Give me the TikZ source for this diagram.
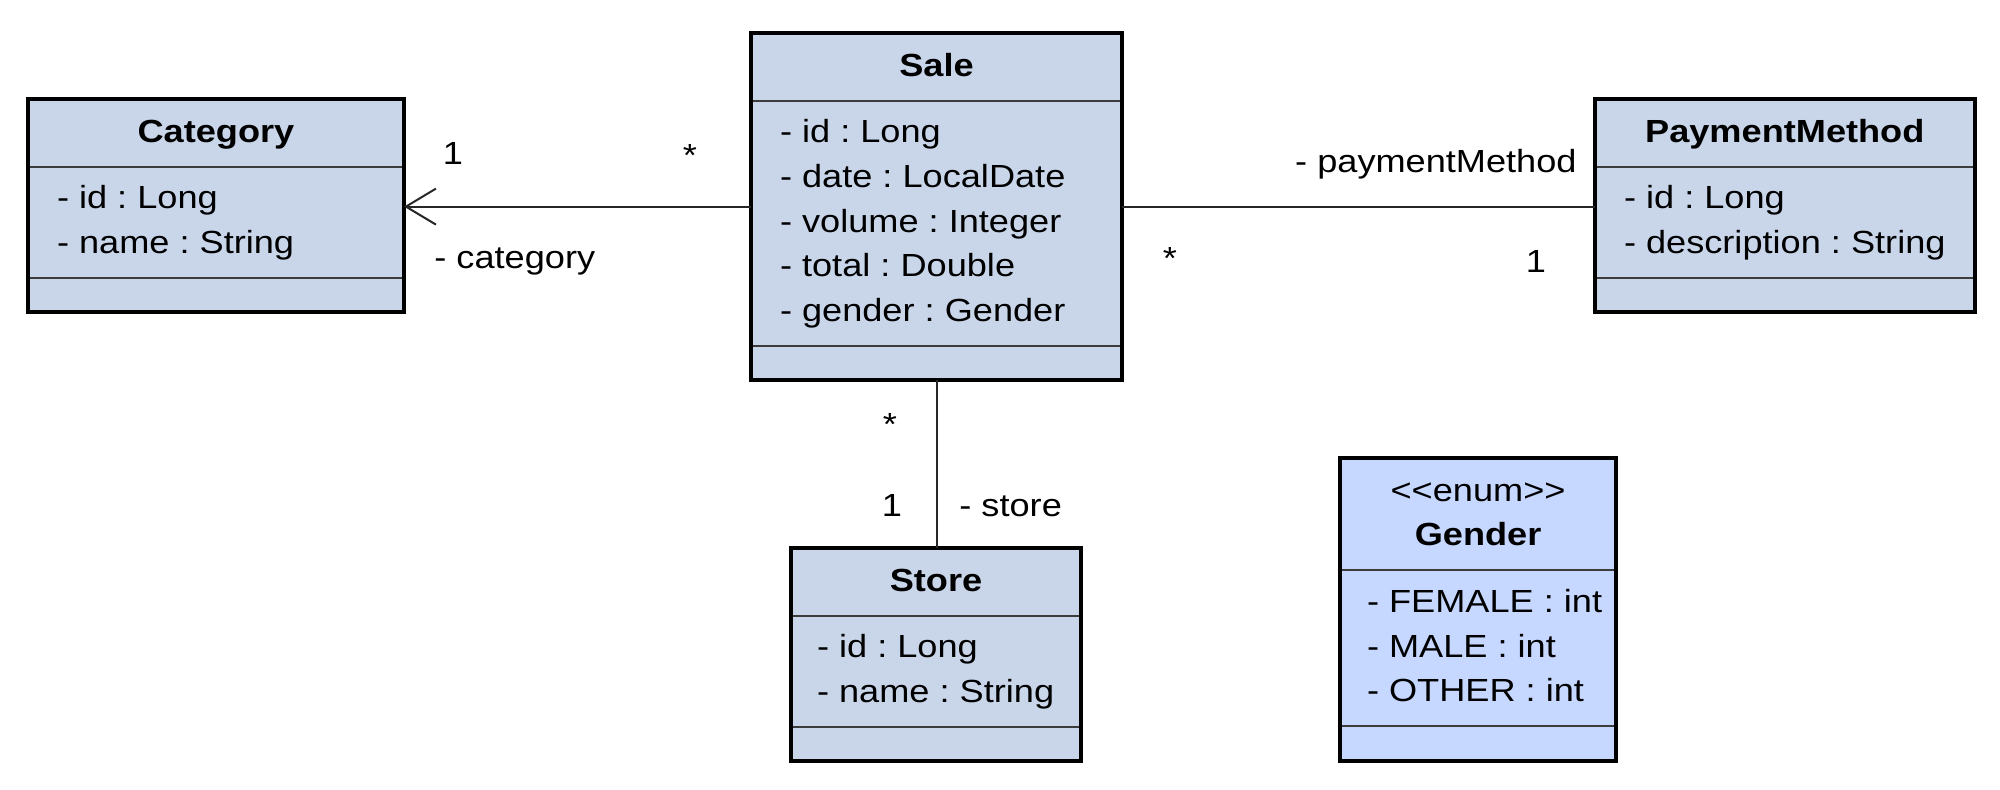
\documentclass[tikz,border=0pt]{standalone}
\usepackage{fontspec}
\setmainfont{Liberation Sans}[FakeStretch=1.13]
\usetikzlibrary{arrows.meta,shapes.multipart}
\definecolor{clsfill}{RGB}{201,214,234}
\definecolor{enumfill}{RGB}{198,216,255}
\definecolor{divgray}{RGB}{60,60,60}
\frenchspacing
\newcommand{\umlfont}{\fontsize{16}{22.3}\selectfont\frenchspacing}
\newcommand{\umlhead}[1]{\strut\textbf{#1}}
\newcommand{\umlattr}[1]{\strut- #1}
\newcommand{\umlenum}[1]{\strut\hspace*{6.5pt}- #1}
\newcommand{\umlstack}[1]{\begin{tabular}{@{}c@{}}#1\end{tabular}}
\tikzset{
  >={Straight Barb[length=15pt,width=18pt]},
  umlclass/.style={rectangle split,rectangle split parts=3,
    rectangle split part align={center,left,left},
    rectangle split empty part height=5.8pt,rectangle split empty part depth=0pt,
    draw=divgray,line width=1pt,fill=#1,align=left,anchor=north west,
    inner xsep=14pt,inner ysep=5pt,font=\umlfont},
  umlclass/.default=clsfill,
  frame/.style={draw=black,line width=2pt},
  assoc/.style={draw=black!85,line width=1pt},
  mult/.style={font=\umlfont,inner sep=0pt,anchor=base},
}
\begin{document}
\begin{tikzpicture}[x=0.5pt,y=-0.5pt]
  \useasboundingbox (0,0) rectangle (2000,789);
  % classes
  \node[umlclass,minimum width=187pt] (cat) at (28,99) {\umlhead{Category}
    \nodepart{two}\umlattr{id : Long}\\\umlattr{name : String}
    \nodepart{three}};
  \node[umlclass,minimum width=184.5pt] (sale) at (751,33) {\umlhead{Sale}
    \nodepart{two}\umlattr{id : Long}\\\umlattr{date : LocalDate}\\\umlattr{volume : Integer}\\
    \umlattr{total : Double}\\\umlattr{gender : Gender}
    \nodepart{three}};
  \node[umlclass,minimum width=187pt] (pay) at (1595,99) {\umlhead{PaymentMethod}
    \nodepart{two}\umlattr{id : Long}\\\umlattr{description : String}
    \nodepart{three}};
  \node[umlclass,minimum width=144pt,inner xsep=12.5pt,anchor=north] (store) at (936,548) {\umlhead{Store}
    \nodepart{two}\umlattr{id : Long}\\\umlattr{name : String}
    \nodepart{three}};
  \node[umlclass=enumfill,minimum width=137pt,inner xsep=6.5pt] (gender) at (1340,458) {\umlstack{<{}<enum>{}>\\\textbf{Gender}}
    \nodepart{two}\umlenum{FEMALE : int}\\\umlenum{MALE : int}\\\umlenum{OTHER : int}
    \nodepart{three}};
  \foreach \c in {cat,sale,pay,store,gender}
    \draw[frame] (\c.north west) rectangle (\c.south east);
  % associations
  \draw[assoc,->] (sale.west) -- (cat.east |- sale.west);
  \draw[assoc] (sale.east) -- (pay.west |- sale.east);
  \draw[assoc] (sale.south) -- (sale.south |- store.north);
  % multiplicities and roles
  \node[mult] (catone) at (453,164) {1};
  \node[mult] (catmany) at (690,166) {*};
  \node[mult,anchor=base west] (catrole) at (434,268) {- category};
  \node[mult,anchor=base east] (payrole) at (1577,172) {- paymentMethod};
  \node[mult] (paymany) at (1170,269) {*};
  \node[mult] (payone) at (1536,272) {1};
  \node[mult] (storemany) at (890,435) {*};
  \node[mult] (storeone) at (892,516) {1};
  \node[mult,anchor=base west] (storerole) at (959,516) {- store};
\end{tikzpicture}
\end{document}
